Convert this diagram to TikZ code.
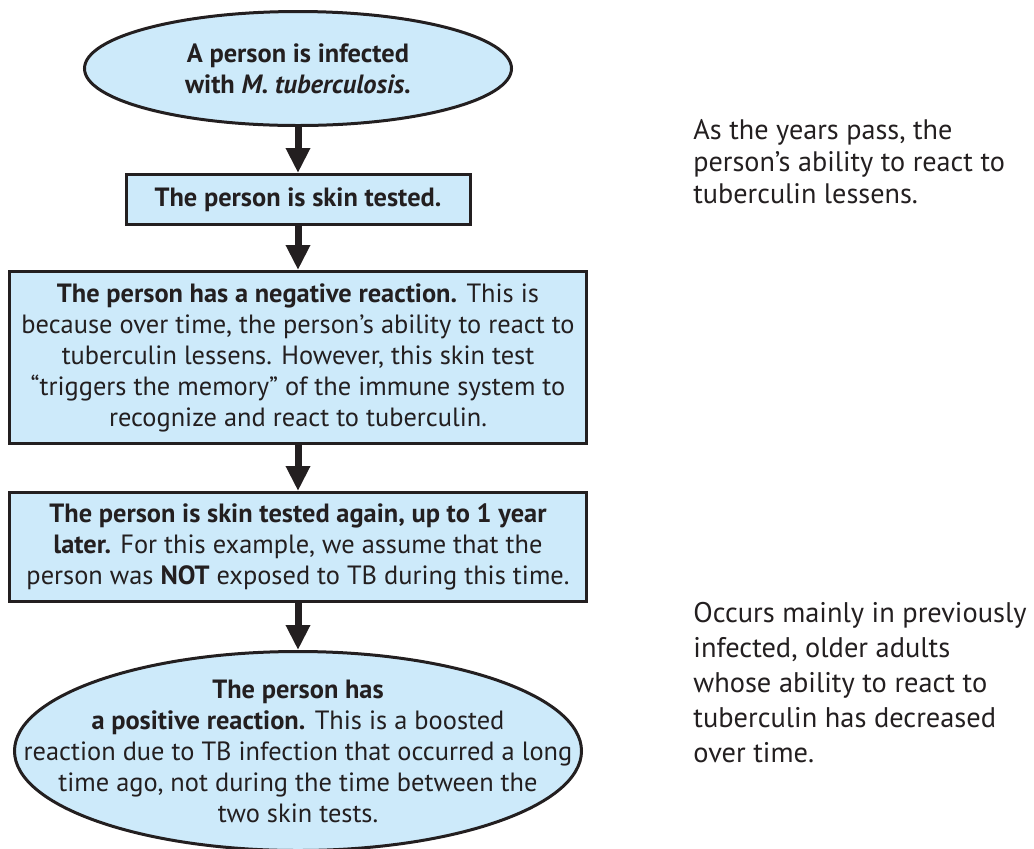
\documentclass[tikz,border=0pt]{standalone}
\usepackage{fontspec}
\setmainfont{PT Sans}
\usetikzlibrary{shapes.geometric,arrows.meta}
\definecolor{tbblue}{RGB}{205,234,250}
\definecolor{tbink}{RGB}{35,31,32}
\tikzset{
  stepbox/.style={draw=tbink, fill=tbblue, line width=1.5pt, inner sep=0pt,
    align=center, text=tbink, font=\fontsize{13.2}{15.5}\selectfont},
  oval/.style={stepbox, ellipse, inner xsep=-60pt, inner ysep=-25pt},
  flow/.style={draw=tbink, line width=3.5pt, -{Triangle[length=12.5pt,width=11.5pt]}},
  note/.style={anchor=west, align=left, text=tbink, inner sep=0pt}
}
\begin{document}
\begin{tikzpicture}[x=0.5pt,y=-0.5pt]
\useasboundingbox (0,0) rectangle (1034,848);

\node[oval, minimum width=213.5pt, minimum height=57pt] (infected) at (298,68.5)
  {\textbf{A person is infected}\\\textbf{with \textit{M. tuberculosis.}}};
\node[stepbox, minimum width=172pt, minimum height=25pt] (test1) at (298,199.5)
  {\textbf{The person is skin tested.}};
\node[stepbox, minimum width=288.5pt, minimum height=86pt] (negative) at (298,357.5)
  {\textbf{The person has a negative reaction.} This is\\
   because over time, the person’s ability to react to\\
   tuberculin lessens. However, this skin test\\
   “triggers the memory” of the immune system to\\
   recognize and react to tuberculin.};
\node[stepbox, minimum width=288.5pt, minimum height=54.5pt] (test2) at (298,547)
  {\textbf{The person is skin tested again, up to 1 year}\\
   \textbf{later.} For this example, we assume that the\\
   person was \textbf{NOT} exposed to TB during this time.};
\node[oval, minimum width=283.5pt, minimum height=99.5pt] (positive) at (298,751)
  {\textbf{The person has}\\
   \textbf{a positive reaction.} This is a boosted\\
   reaction due to TB infection that occurred a long\\
   time ago, not during the time between the\\
   two skin tests.};

\draw[flow] (infected) -- (test1);
\draw[flow] (test1) -- (negative);
\draw[flow] (negative) -- (test2);
\draw[flow] (test2) -- (positive);

% side notes
\node[note, font=\fontsize{14.1}{16}\selectfont] (lessens) at (693,161.5)
  {As the years pass, the\\person’s ability to react to\\tuberculin lessens.};
\node[note, font=\fontsize{14.2}{17.5}\selectfont] (older) at (693,682.5)
  {Occurs mainly in previously\\infected, older adults\\whose ability to react to\\tuberculin has decreased\\over time.};
\end{tikzpicture}
\end{document}
